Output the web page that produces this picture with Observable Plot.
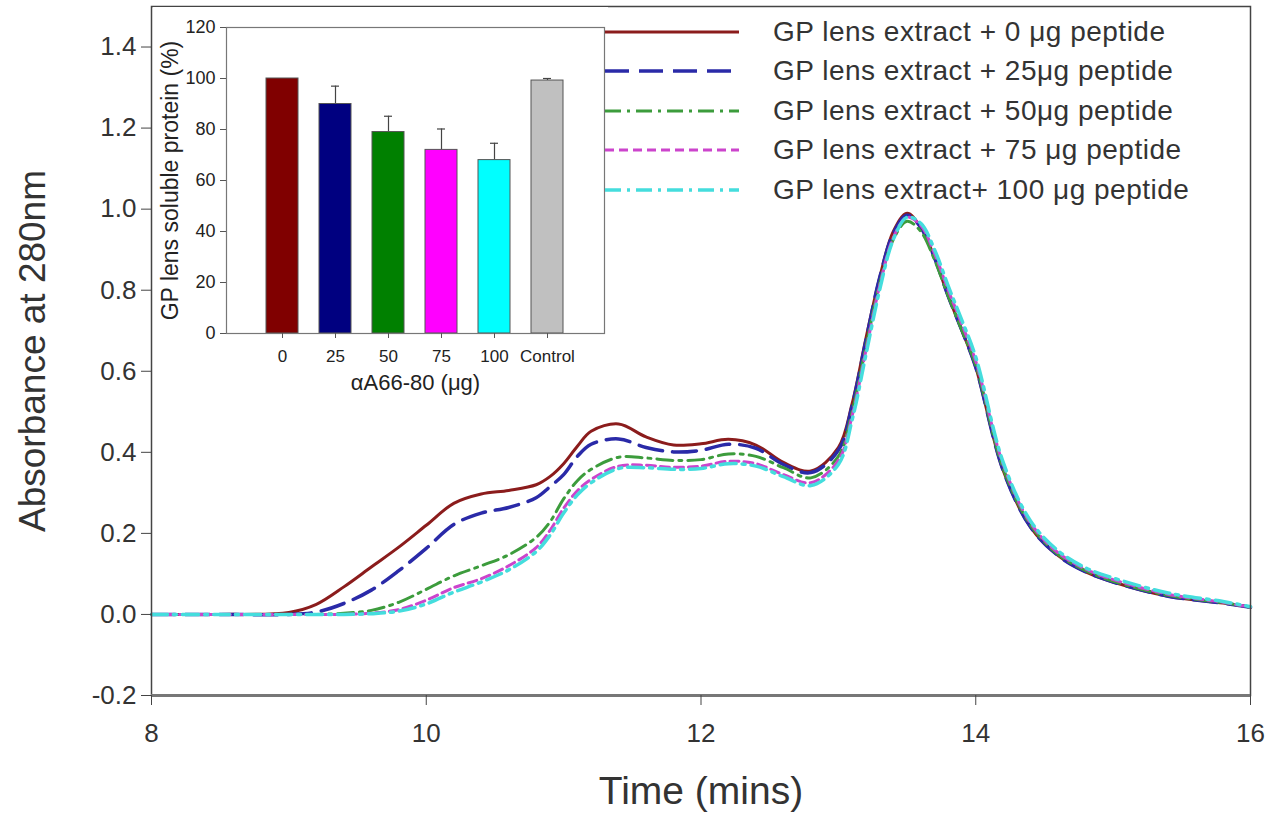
<!DOCTYPE html>
<html><head><meta charset="utf-8">
<script src="https://cdn.jsdelivr.net/npm/d3@7"></script>
<script src="https://cdn.jsdelivr.net/npm/@observablehq/plot@0.6"></script>
<style>
body{margin:0;background:#fff;font-family:"Liberation Sans",Arial,sans-serif;}
#wrap{position:relative;width:1284px;height:822px;overflow:hidden;background:#fff;}
#inset{position:absolute;left:153px;top:7px;}
#legend{position:absolute;left:605px;top:12px;color:#333;}
.row{display:flex;align-items:center;height:39.5px;}
.row span{margin-left:34px;font-size:28px;letter-spacing:0.5px;white-space:nowrap;}
</style></head><body><div id="wrap"><div id="inset"></div><div id="legend"></div></div>
<script>
const FONT = '"Liberation Sans", Arial, sans-serif';

// ---- main chromatogram data ----
const time   = [8.0, 8.5, 9.0, 9.2, 9.4, 9.6, 9.8, 10.0, 10.2, 10.4, 10.6, 10.8, 10.9, 11.0, 11.1, 11.2, 11.4, 11.6, 11.8, 12.0, 12.2, 12.4, 12.6, 12.8, 13.0, 13.1, 13.2, 13.3, 13.4, 13.5, 13.6, 13.7, 13.8, 13.9, 14.0, 14.2, 14.4, 14.6, 14.8, 15.0, 15.4, 15.8, 16.0];
const abs0   = [0, 0, 0.005, 0.025, 0.068, 0.117, 0.166, 0.22, 0.274, 0.297, 0.306, 0.32, 0.34, 0.372, 0.415, 0.452, 0.47, 0.438, 0.418, 0.421, 0.432, 0.418, 0.375, 0.354, 0.412, 0.52, 0.68, 0.83, 0.945, 0.99, 0.955, 0.88, 0.785, 0.70, 0.61, 0.355, 0.215, 0.145, 0.105, 0.08, 0.045, 0.028, 0.018];
const abs25  = [0, 0, 0, 0.006, 0.027, 0.06, 0.108, 0.163, 0.222, 0.25, 0.264, 0.288, 0.315, 0.345, 0.39, 0.42, 0.433, 0.412, 0.401, 0.405, 0.42, 0.41, 0.37, 0.35, 0.405, 0.515, 0.675, 0.83, 0.94, 0.985, 0.955, 0.88, 0.785, 0.70, 0.61, 0.355, 0.215, 0.145, 0.105, 0.08, 0.045, 0.028, 0.018];
const abs50  = [0, 0, 0, 0, 0.003, 0.01, 0.03, 0.062, 0.095, 0.12, 0.147, 0.19, 0.228, 0.285, 0.33, 0.358, 0.388, 0.386, 0.38, 0.382, 0.396, 0.39, 0.362, 0.337, 0.39, 0.50, 0.66, 0.815, 0.925, 0.97, 0.945, 0.875, 0.785, 0.70, 0.615, 0.36, 0.22, 0.148, 0.108, 0.082, 0.047, 0.029, 0.018];
const abs75  = [0, 0, 0, 0, 0, 0.003, 0.012, 0.035, 0.066, 0.088, 0.12, 0.165, 0.207, 0.262, 0.305, 0.333, 0.366, 0.368, 0.363, 0.366, 0.378, 0.372, 0.345, 0.325, 0.38, 0.49, 0.65, 0.81, 0.93, 0.98, 0.96, 0.89, 0.80, 0.715, 0.625, 0.37, 0.225, 0.152, 0.112, 0.086, 0.05, 0.03, 0.018];
const abs100 = [0, 0, 0, 0, 0, 0.002, 0.008, 0.026, 0.055, 0.08, 0.11, 0.155, 0.195, 0.25, 0.295, 0.325, 0.36, 0.362, 0.358, 0.36, 0.372, 0.366, 0.34, 0.318, 0.37, 0.48, 0.64, 0.80, 0.925, 0.98, 0.965, 0.90, 0.81, 0.725, 0.635, 0.375, 0.23, 0.157, 0.115, 0.09, 0.053, 0.032, 0.019];

const seriesNames = [
  "GP lens extract + 0 \u03bcg peptide",
  "GP lens extract + 25\u03bcg peptide",
  "GP lens extract + 50\u03bcg peptide",
  "GP lens extract + 75 \u03bcg peptide",
  "GP lens extract+ 100 \u03bcg peptide"
];
const seriesValues = [abs0, abs25, abs50, abs75, abs100];
const seriesColors = ["#8b1c1c", "#2a2aa8", "#3c9c3c", "#cc44cc", "#44dddd"];
const seriesDash   = [null, "24,10", "16,6,3,6", "9,5", "16,6,3,6"];
const seriesWidth  = [3, 3.5, 3, 3, 3.5];

const xTicks = [8, 10, 12, 14, 16];
const yTicks = [-0.2, 0, 0.2, 0.4, 0.6, 0.8, 1.0, 1.2, 1.4];

// ---- inset bar data ----
const insetCats   = ["0", "25", "50", "75", "100", "Control"];
const insetVals   = [100, 90, 79, 72, 68, 99.2];
const insetErr    = [0, 7, 6.2, 8.2, 6.6, 0.8];
const insetColors = ["#800000", "#000080", "#008000", "#ff00ff", "#00ffff", "#c0c0c0"];
const insetTicks  = [0, 20, 40, 60, 80, 100, 120];

// ---- main plot ----
const lineMarks = seriesValues.map((vals, k) =>
  Plot.line(time.map((t, i) => ({t, v: vals[i]})), {
    x: "t", y: "v", stroke: seriesColors[k], strokeWidth: seriesWidth[k],
    strokeDasharray: seriesDash[k] || undefined, curve: "catmull-rom"
  })
);

const main = Plot.plot({
  width: 1284, height: 822,
  marginLeft: 151, marginRight: 34, marginTop: 6, marginBottom: 127,
  style: {fontFamily: FONT, color: "#333", background: "white", overflow: "visible"},
  x: {domain: [8, 16]},
  y: {domain: [-0.2, 1.5]},
  marks: [
    ...lineMarks,
    Plot.frame({stroke: "#444", strokeWidth: 1.5}),
    Plot.ruleY([yTicks[0]], {stroke: "#777", strokeWidth: 3}),
    Plot.axisY({ticks: yTicks, tickSize: 10, tickPadding: 5, tickFormat: d => d.toFixed(1), fontSize: 26, label: null, stroke: "#444"}),
    Plot.axisX({ticks: xTicks, tickSize: 10, tickPadding: 18, tickFormat: d => String(d), fontSize: 26, label: null, stroke: "#444"}),
    Plot.text(["Absorbance at 280nm"], {text: d => d, frameAnchor: "left", textAnchor: "middle", dx: -118, rotate: -90, fontSize: 37, fill: "#333"}),
    Plot.text(["Time (mins)"], {text: d => d, frameAnchor: "bottom", dy: 108, fontSize: 39, fill: "#333"})
  ]
});
const wrap = document.getElementById("wrap");
wrap.insertBefore(main, wrap.firstChild);

// ---- inset plot ----
const insetData = insetCats.map((c, i) => ({cat: c, val: insetVals[i], err: insetErr[i], color: insetColors[i]}));
const errData = insetData.filter(d => d.err > 0);
const inset = Plot.plot({
  width: 455, height: 405,
  marginLeft: 73, marginRight: 4, marginTop: 20, marginBottom: 79,
  style: {fontFamily: FONT, color: "#222", background: "white"},
  x: {domain: insetCats, paddingInner: 0.39, paddingOuter: 0.7},
  y: {domain: [0, 120]},
  color: {type: "identity"},
  marks: [
    Plot.ruleX(errData, {x: "cat", y1: "val", y2: d => d.val + d.err, stroke: "#444", strokeWidth: 1.2}),
    Plot.tickY(errData, {x: "cat", y: d => d.val + d.err, stroke: "#444", strokeWidth: 1.2, insetLeft: 12, insetRight: 12}),
    Plot.barY(insetData, {x: "cat", y: "val", fill: "color", stroke: "#555", strokeWidth: 1}),
    Plot.frame({stroke: "#777", strokeWidth: 1.2}),
    Plot.axisY({ticks: insetTicks, tickSize: 6, tickPadding: 5, fontSize: 18, label: null, stroke: "#555"}),
    Plot.axisX({tickSize: 5, tickPadding: 11, fontSize: 17, label: null, stroke: "#555"}),
    Plot.text(["GP lens soluble protein (%)"], {text: d => d, frameAnchor: "left", textAnchor: "middle", dx: -56, rotate: -90, fontSize: 23, fill: "#222"}),
    Plot.text(["\u03b1A66-80 (\u03bcg)"], {text: d => d, frameAnchor: "bottom", dy: 56, fontSize: 22, fill: "#222"})
  ]
});
document.getElementById("inset").appendChild(inset);

// ---- legend ----
const legend = document.getElementById("legend");
seriesNames.forEach((name, k) => {
  const row = document.createElement("div");
  row.className = "row";
  const svg = d3.create("svg").attr("width", 134).attr("height", 10);
  svg.append("line").attr("x1", 0).attr("x2", 134).attr("y1", 5).attr("y2", 5)
    .attr("stroke", seriesColors[k]).attr("stroke-width", seriesWidth[k])
    .attr("stroke-dasharray", seriesDash[k]);
  row.appendChild(svg.node());
  const span = document.createElement("span");
  span.textContent = name;
  row.appendChild(span);
  legend.appendChild(row);
});
</script></body></html>
